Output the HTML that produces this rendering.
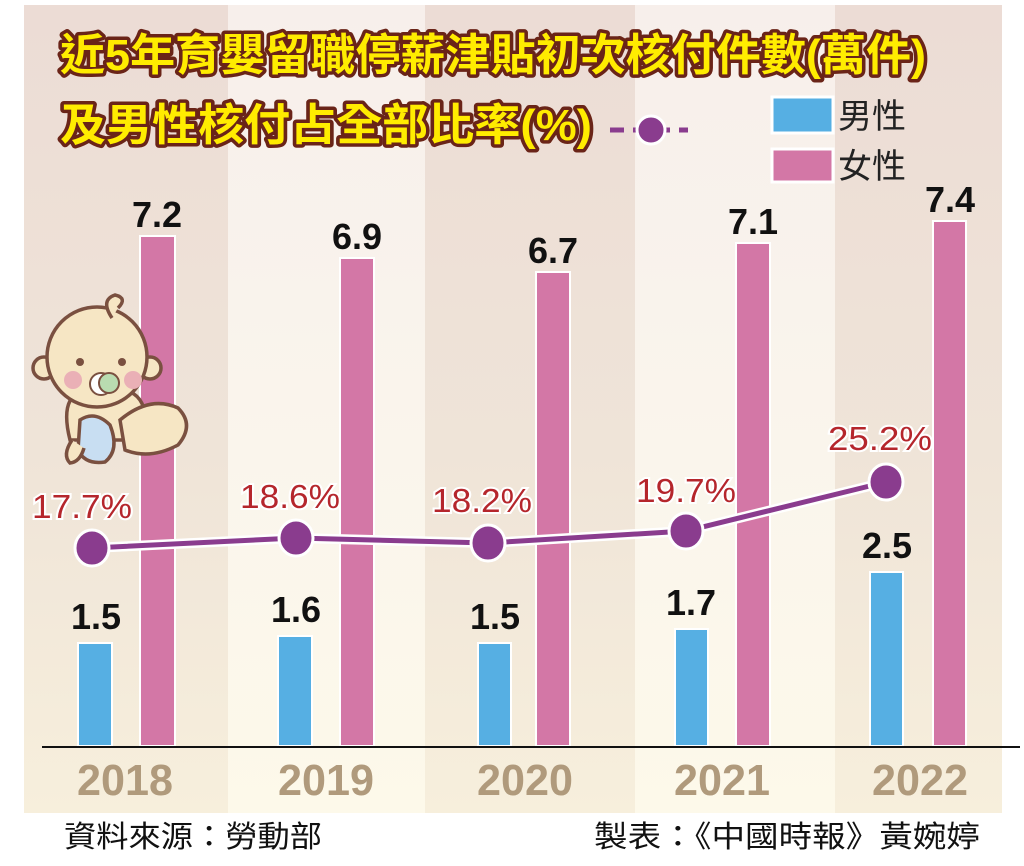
<!DOCTYPE html>
<html><head><meta charset="utf-8"><style>
html,body{margin:0;padding:0;background:#fff;}
svg{display:block;}
</style></head><body>
<svg width="1024" height="866" viewBox="0 0 1024 866" xmlns="http://www.w3.org/2000/svg">
<defs>
<linearGradient id="dk" x1="0" y1="0" x2="0" y2="1">
<stop offset="0" stop-color="#ecdcd5"/><stop offset="0.55" stop-color="#efe4d8"/><stop offset="1" stop-color="#f7efdc"/></linearGradient>
<linearGradient id="lt" x1="0" y1="0" x2="0" y2="1">
<stop offset="0" stop-color="#f7efeb"/><stop offset="0.55" stop-color="#faf5ec"/><stop offset="1" stop-color="#fdf9ea"/></linearGradient>
</defs>
<rect x="24" y="5" width="978" height="808" fill="url(#dk)"/>
<rect x="228" y="5" width="197" height="808" fill="url(#lt)"/>
<rect x="635" y="5" width="200" height="808" fill="url(#lt)"/>

<g font-family="'Liberation Sans','Noto Sans CJK TC',sans-serif" font-weight="bold" font-size="44" fill="#ffec00" stroke="#6a2418" stroke-width="7" paint-order="stroke" stroke-linejoin="round">
<text x="60" y="70" textLength="866" lengthAdjust="spacingAndGlyphs">近5年育嬰留職停薪津貼初次核付件數(萬件)</text>
<text x="60" y="140" textLength="532" lengthAdjust="spacingAndGlyphs">及男性核付占全部比率(%)</text>
</g>
<line x1="610" y1="130" x2="688" y2="130" stroke="#8a3c8e" stroke-width="5" stroke-dasharray="14 9"/>
<circle cx="651" cy="130" r="14" fill="#8a3c8e" stroke="#fff" stroke-width="3"/>
<rect x="772" y="97" width="61" height="36" fill="#56afe3" stroke="#fff" stroke-width="3"/>
<rect x="772" y="149" width="61" height="33" fill="#d377a6" stroke="#fff" stroke-width="3"/>
<g font-family="'Liberation Sans','Noto Sans CJK TC',sans-serif" font-size="34" fill="#222">
<text x="838" y="128">男性</text><text x="838" y="178">女性</text></g>

<g stroke="#fff" stroke-width="2">
<g fill="#56afe3">
<rect x="78" y="643" width="34" height="103"/>
<rect x="278" y="636" width="34" height="110"/>
<rect x="478" y="643" width="33" height="103"/>
<rect x="675" y="629" width="33" height="117"/>
<rect x="870" y="572" width="33" height="174"/>
</g>
<g fill="#d377a6">
<rect x="140" y="236" width="35" height="510"/>
<rect x="340" y="258" width="34" height="488"/>
<rect x="536" y="272" width="34" height="474"/>
<rect x="736" y="243" width="34" height="503"/>
<rect x="933" y="221" width="33" height="525"/>
</g></g>
<line x1="42" y1="747" x2="1020" y2="747" stroke="#111" stroke-width="2"/>

<g font-family="'Liberation Sans',sans-serif" font-weight="bold" font-size="36" fill="#111" text-anchor="middle">
<text x="157" y="227">7.2</text><text x="357" y="249">6.9</text><text x="553" y="263">6.7</text>
<text x="753" y="234">7.1</text><text x="950" y="212">7.4</text>
<text x="96" y="629">1.5</text><text x="296" y="622">1.6</text><text x="495" y="629">1.5</text>
<text x="691" y="615">1.7</text><text x="887" y="558">2.5</text>
</g>
<g font-family="'Liberation Sans',sans-serif" font-weight="bold" font-size="44" fill="#b09a7c" text-anchor="middle">
<text x="125" y="795" textLength="96" lengthAdjust="spacingAndGlyphs">2018</text><text x="326" y="795" textLength="96" lengthAdjust="spacingAndGlyphs">2019</text><text x="525" y="795" textLength="96" lengthAdjust="spacingAndGlyphs">2020</text><text x="722" y="795" textLength="96" lengthAdjust="spacingAndGlyphs">2021</text><text x="920" y="795" textLength="96" lengthAdjust="spacingAndGlyphs">2022</text>
</g>

<!-- baby -->
<g stroke="#7a5040" stroke-width="3.5" fill="#f6e6c4">
<path d="M70 440 Q60 400 80 392 L130 392 Q150 400 145 440 Z"/>
<path d="M120 420 Q150 395 178 408 Q195 425 178 445 Q150 460 125 450 Z"/>
<path d="M80 420 Q95 410 110 425 Q120 450 105 462 Q85 465 78 450 Z" fill="#c8def2"/>
<path d="M72 440 Q62 455 70 463 Q80 462 84 448"/>
<circle cx="44" cy="368" r="11"/><circle cx="150" cy="368" r="11"/>
<circle cx="97" cy="357" r="50"/>
<path d="M112 318 Q100 300 115 295 Q128 298 118 308"/>
</g>
<g fill="#7a5040"><circle cx="80" cy="362" r="4"/><circle cx="122" cy="362" r="4"/></g>
<circle cx="73" cy="380" r="9" fill="#eab0b6"/><circle cx="133" cy="380" r="9" fill="#eab0b6"/>
<circle cx="101" cy="384" r="11" fill="#fff" stroke="#7a5040" stroke-width="2"/>
<circle cx="109" cy="383" r="10" fill="#b9dcb0" stroke="#7a5040" stroke-width="2"/>

<polyline points="92,548 296,538 488,543 686,531 886,482" fill="none" stroke="#fff" stroke-width="10"/>
<polyline points="92,548 296,538 488,543 686,531 886,482" fill="none" stroke="#8a3c8e" stroke-width="5"/>
<g fill="#8a3c8e" stroke="#fff" stroke-width="3">
<ellipse cx="92" cy="548" rx="17" ry="18"/><ellipse cx="296" cy="538" rx="17" ry="18"/><ellipse cx="488" cy="543" rx="17" ry="18"/><ellipse cx="686" cy="531" rx="17" ry="18"/><ellipse cx="886" cy="482" rx="17" ry="18"/>
</g>
<g font-family="'Liberation Sans',sans-serif" font-size="33" fill="#b5262c" stroke="#fff" stroke-width="4" paint-order="stroke" text-anchor="middle">
<text x="82" y="518" textLength="100" lengthAdjust="spacingAndGlyphs">17.7%</text><text x="290" y="508" textLength="100" lengthAdjust="spacingAndGlyphs">18.6%</text><text x="482" y="512" textLength="100" lengthAdjust="spacingAndGlyphs">18.2%</text><text x="686" y="502" textLength="100" lengthAdjust="spacingAndGlyphs">19.7%</text><text x="880" y="450" textLength="104" lengthAdjust="spacingAndGlyphs">25.2%</text>
</g>

<g font-family="'Liberation Sans','Noto Sans CJK TC',sans-serif" font-size="30" fill="#111">
<text x="64" y="847" textLength="258" lengthAdjust="spacingAndGlyphs">資料來源：勞動部</text>
<text x="594" y="847" textLength="386" lengthAdjust="spacingAndGlyphs">製表：《中國時報》黃婉婷</text>
</g>
</svg>
</body></html>
